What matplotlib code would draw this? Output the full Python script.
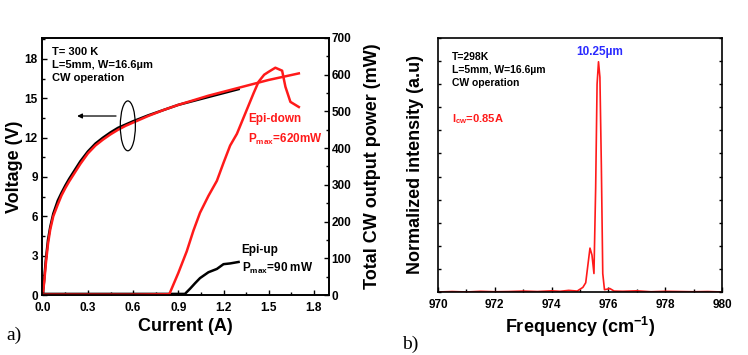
import matplotlib
matplotlib.use("Agg")
import matplotlib.pyplot as plt
from matplotlib.patches import Ellipse
from matplotlib.ticker import MultipleLocator, NullFormatter

plt.rcParams['font.family'] = ['Liberation Sans', 'DejaVu Sans']
plt.rcParams['font.weight'] = 'bold'
plt.rcParams['mathtext.fontset'] = 'custom'
plt.rcParams['mathtext.rm'] = 'Liberation Sans:bold'
plt.rcParams['mathtext.bf'] = 'Liberation Sans:bold'

# ---- panel a) data ----
current_v_up = [0.0, 0.01, 0.02, 0.035, 0.05, 0.07, 0.1, 0.125, 0.15, 0.175, 0.2, 0.25, 0.3, 0.35, 0.4, 0.45, 0.5, 0.55, 0.6, 0.7, 0.8, 0.9, 1.0, 1.1, 1.2, 1.3]
voltage_up = [0.0, 1.2, 2.6, 4.2, 5.2, 6.2, 7.2, 7.8, 8.35, 8.85, 9.3, 10.2, 10.95, 11.55, 12.0, 12.4, 12.75, 13.0, 13.25, 13.7, 14.1, 14.5, 14.8, 15.1, 15.4, 15.7]
current_v_down = [0.0, 0.01, 0.02, 0.035, 0.05, 0.07, 0.1, 0.125, 0.15, 0.175, 0.2, 0.25, 0.3, 0.35, 0.4, 0.45, 0.5, 0.55, 0.6, 0.7, 0.8, 0.9, 1.0, 1.1, 1.2, 1.3, 1.4, 1.5, 1.6, 1.7]
voltage_down = [0.0, 1.0, 2.3, 3.9, 5.0, 6.0, 6.9, 7.6, 8.15, 8.65, 9.1, 10.0, 10.8, 11.4, 11.85, 12.25, 12.6, 12.9, 13.15, 13.65, 14.1, 14.5, 14.85, 15.2, 15.5, 15.8, 16.1, 16.4, 16.65, 16.9]

current_p_down = [0.0, 0.3, 0.6, 0.84, 0.9, 0.956, 1.0, 1.044, 1.1, 1.156, 1.2, 1.244, 1.289, 1.33, 1.367, 1.4, 1.433, 1.47, 1.5, 1.544, 1.589, 1.611, 1.644, 1.7]
power_down = [1, 1, 1, 2, 60, 119, 175, 224, 270, 311, 360, 407, 439, 480, 517, 550, 581, 600, 608, 619, 611, 567, 526, 512]
current_p_up = [0.0, 0.3, 0.6, 0.944, 0.98, 1.011, 1.044, 1.1, 1.156, 1.2, 1.244, 1.3]
power_up = [3, 3, 3, 3, 18, 32, 46, 62, 71, 84, 86, 90]

# ---- panel b) data ----
freq = [970.0, 970.5, 971.0, 971.5, 972.0, 972.5, 973.0, 973.5, 974.0, 974.3, 974.6, 974.9, 975.0, 975.1, 975.2, 975.28, 975.35, 975.42, 975.49, 975.55, 975.6, 975.65, 975.7, 975.75, 975.8, 975.86, 975.95, 976.05, 976.2, 976.5, 977.0, 977.5, 978.0, 978.5, 979.0, 979.5, 980.0]
intensity = [0.0, 0.002, 0.0, 0.003, 0.001, 0.002, 0.004, 0.002, 0.005, 0.003, 0.007, 0.004, 0.012, 0.02, 0.04, 0.12, 0.19, 0.16, 0.08, 0.45, 0.9, 0.997, 0.93, 0.55, 0.08, 0.01, 0.012, 0.015, 0.004, 0.003, 0.005, 0.001, 0.003, 0.002, 0.001, 0.002, 0.0]

RED = '#ff1a1a'

fig = plt.figure(figsize=(7.48, 3.55), dpi=100)
ax1 = fig.add_axes([0.0561, 0.169, 0.3837, 0.724])
ax1b = ax1.twinx()
ax2 = fig.add_axes([0.5856, 0.1775, 0.3797, 0.7155])

# panel a
ax1.plot(current_v_up, voltage_up, color='black', lw=1.8, zorder=3)
ax1.plot(current_v_down, voltage_down, color=RED, lw=1.8, zorder=4)
ax1b.plot(current_p_up, power_up, color='black', lw=1.8)
ax1b.plot(current_p_down, power_down, color=RED, lw=1.8)

ax1.set_xlim(-0.005, 1.9)
ax1.set_ylim(0, 19.6)
ax1b.set_ylim(0, 700)
ax1.xaxis.set_major_locator(MultipleLocator(0.3))
ax1.xaxis.set_minor_locator(MultipleLocator(0.15))
ax1.yaxis.set_major_locator(MultipleLocator(3))
ax1.yaxis.set_minor_locator(MultipleLocator(1.5))
ax1b.yaxis.set_major_locator(MultipleLocator(100))
ax1b.yaxis.set_minor_locator(MultipleLocator(50))
ax1.xaxis.set_major_formatter(plt.FuncFormatter(lambda v, p: f"{v:.1f}"))

for a in (ax1, ax1b, ax2):
    a.tick_params(which='both', direction='in', labelsize=8.5, pad=2)
    a.tick_params(which='major', length=3.5, width=1)
    a.tick_params(which='minor', length=2, width=1)
    for s in a.spines.values():
        s.set_linewidth(1.2)
ax1.tick_params(axis='x', pad=5)
ax1.tick_params(axis='y', pad=3)
ax2.tick_params(axis='x', pad=5)

ax1.set_xlabel('Current (A)', fontsize=13, fontweight='bold', labelpad=3)
ax1.set_ylabel('Voltage (V)', fontsize=13, fontweight='bold', labelpad=1)
ax1b.set_ylabel('Total CW output power (mW)', fontsize=13, fontweight='bold', labelpad=9)

ax1.text(0.035, 0.965, 'T= 300 K\nL=5mm, W=16.6\u00b5m\nCW operation', transform=ax1.transAxes,
         fontsize=8, fontweight='bold', va='top', ha='left', linespacing=1.35)
ax1.add_patch(Ellipse((0.565, 12.9), 0.1, 3.8, fill=False, edgecolor='black', lw=0.9, zorder=5))
ax1.annotate('', xy=(0.21, 13.65), xytext=(0.505, 13.65),
             arrowprops=dict(arrowstyle='-|>', color='black', lw=0.9, mutation_scale=7))
ax1.text(1.365, 13.4, 'Epi-down', color=RED, fontsize=8.5, fontweight='bold', va='center')
ax1.text(1.365, 11.9, r'P$_{\mathregular{max}}$=620mW', color=RED, fontsize=8.5, fontweight='bold', va='center')
ax1.text(1.32, 3.45, 'Epi-up', color='black', fontsize=8.5, fontweight='bold', va='center')
ax1.text(1.32, 2.0, r'P$_{\mathregular{max}}$=90 mW', color='black', fontsize=8.5, fontweight='bold', va='center')

# panel b
ax2.plot(freq, intensity, color=RED, lw=1.2)
ax2.set_xlim(970, 980)
ax2.set_ylim(0, 1.1)
ax2.xaxis.set_major_locator(MultipleLocator(2))
ax2.xaxis.set_minor_locator(MultipleLocator(1))
ax2.yaxis.set_major_locator(MultipleLocator(0.1))
ax2.yaxis.set_major_formatter(NullFormatter())
ax2.tick_params(axis='y', which='both', left=True, right=True, length=2.5)
ax2.set_xlabel('Frequency (cm$^{\\mathregular{-1}}$)', fontsize=13, fontweight='bold', labelpad=3)
ax2.set_ylabel('Normalized intensity (a.u)', fontsize=13, fontweight='bold', labelpad=8)
ax2.text(0.05, 0.945, 'T=298K\nL=5mm, W=16.6\u00b5m\nCW operation', transform=ax2.transAxes,
         fontsize=7.5, fontweight='bold', va='top', ha='left', linespacing=1.4)
ax2.text(0.05, 0.68, r'I$_{\mathregular{cw}}$=0.85A', transform=ax2.transAxes, color=RED,
         fontsize=8, fontweight='bold', va='center', ha='left')
ax2.text(975.7, 1.015, '10.25\u00b5m', color='#2a2aff', fontsize=8.5, fontweight='bold', ha='center', va='bottom')

fig.text(0.008, 0.055, 'a)', fontsize=14, family='Liberation Serif', fontweight='normal', va='center')
fig.text(0.538, 0.03, 'b)', fontsize=14, family='Liberation Serif', fontweight='normal', va='center')

fig.savefig('out.png', dpi=100)
